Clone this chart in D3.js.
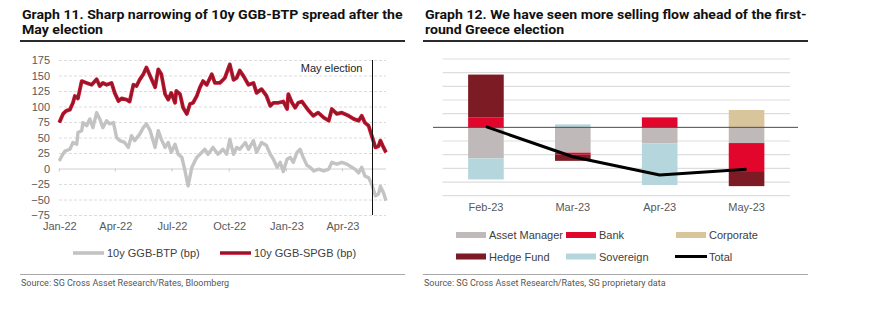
<!DOCTYPE html>
<html lang="en">
<head>
  <meta charset="UTF-8" />
  <title>Graph 11 and 12</title>
  <script src="https://cdn.jsdelivr.net/npm/d3@7"></script>
  <style>
    body { margin: 0; background: #fff; }
    svg { display: block; background: #fff; }
    .title { font-family: Roboto, "Open Sans", sans-serif; font-weight: 700; font-size: 12px; fill: #111; }
    .source { font-family: Roboto, sans-serif; font-size: 9px; fill: #555; }
    .axis text, .lbl { font-family: "Liberation Sans", Arial, sans-serif; font-size: 11px; fill: #595959; }
    .axis path, .axis line { display: none; }
  </style>
</head>
<body>
  <div id="chart"></div>

  <script>
    // ---- Graph 11 data (bp) ----
    const btpDates = ["2022-01-01","2022-01-05","2022-01-10","2022-01-18","2022-01-23","2022-01-29","2022-01-31","2022-02-06","2022-02-08","2022-02-14","2022-02-19","2022-02-24","2022-03-02","2022-03-07","2022-03-12","2022-03-18","2022-03-23","2022-03-29","2022-04-03","2022-04-08","2022-04-16","2022-04-22","2022-04-27","2022-05-02","2022-05-10","2022-05-16","2022-05-21","2022-05-27","2022-06-04","2022-06-09","2022-06-14","2022-06-20","2022-06-25","2022-06-30","2022-07-06","2022-07-11","2022-07-17","2022-07-22","2022-07-27","2022-08-02","2022-08-10","2022-08-15","2022-08-23","2022-08-28","2022-09-05","2022-09-13","2022-09-21","2022-09-27","2022-10-02","2022-10-08","2022-10-13","2022-10-18","2022-10-27","2022-11-01","2022-11-09","2022-11-14","2022-11-22","2022-11-30","2022-12-06","2022-12-11","2022-12-17","2022-12-22","2022-12-27","2023-01-02","2023-01-07","2023-01-12","2023-01-18","2023-01-23","2023-01-28","2023-02-03","2023-02-08","2023-02-14","2023-02-22","2023-03-02","2023-03-10","2023-03-15","2023-03-23","2023-03-31","2023-04-08","2023-04-16","2023-04-21","2023-04-27","2023-05-02","2023-05-07","2023-05-13","2023-05-18","2023-05-24","2023-05-29","2023-06-01","2023-06-06","2023-06-10"];
    const btpValues = [12,20,28,31,42,39,58,61,74,69,80,66,90,80,66,77,72,74,50,45,42,34,53,45,55,66,72,61,34,61,47,34,42,26,39,23,18,-4,-28,2,18,23,31,23,34,23,31,23,47,23,34,31,42,31,45,26,42,37,23,15,2,10,-5,15,18,10,26,31,18,5,2,-4,-1,-4,-1,10,7,10,7,2,-1,-7,2,-12,-15,-25,-44,-41,-29,-39,-52];

    const spgbDates = ["2022-01-01","2022-01-07","2022-01-12","2022-01-18","2022-01-23","2022-01-26","2022-01-31","2022-02-06","2022-02-14","2022-02-22","2022-03-02","2022-03-07","2022-03-12","2022-03-18","2022-03-26","2022-03-31","2022-04-06","2022-04-11","2022-04-19","2022-04-24","2022-04-30","2022-05-05","2022-05-10","2022-05-16","2022-05-21","2022-05-27","2022-06-04","2022-06-09","2022-06-14","2022-06-20","2022-06-25","2022-06-30","2022-07-06","2022-07-08","2022-07-14","2022-07-19","2022-07-25","2022-07-30","2022-08-04","2022-08-10","2022-08-15","2022-08-20","2022-08-26","2022-09-03","2022-09-08","2022-09-16","2022-09-24","2022-10-02","2022-10-08","2022-10-13","2022-10-18","2022-10-24","2022-11-01","2022-11-09","2022-11-14","2022-11-22","2022-11-30","2022-12-06","2022-12-11","2022-12-19","2022-12-27","2023-01-02","2023-01-04","2023-01-10","2023-01-15","2023-01-20","2023-01-26","2023-01-31","2023-02-06","2023-02-13","2023-02-21","2023-03-02","2023-03-10","2023-03-15","2023-03-23","2023-03-31","2023-04-11","2023-04-19","2023-04-27","2023-05-02","2023-05-07","2023-05-13","2023-05-18","2023-05-24","2023-05-29","2023-06-01","2023-06-06","2023-06-10"];
    const spgbValues = [74,88,93,95,106,117,113,141,138,135,144,133,138,135,138,122,109,113,111,108,135,133,143,152,163,149,131,160,152,120,111,122,106,125,120,98,88,104,106,117,131,141,135,152,138,138,146,168,143,146,158,149,135,138,122,128,117,101,106,106,108,96,120,106,98,106,108,101,93,85,90,82,77,96,88,90,85,80,77,85,74,69,53,34,36,45,34,26];

    const tickDates = ["2022-01-01","2022-04-01","2022-07-01","2022-10-01","2023-01-01","2023-04-01"];
    const yTicks = [-75,-50,-25,0,25,50,75,100,125,150,175];
    const electionDate = "2023-05-18";

    // ---- Graph 12 data (grid units) ----
    const months = ["Feb-23","Mar-23","Apr-23","May-23"];
    const investorTypes = ["Asset Manager","Bank","Corporate","Hedge Fund","Sovereign"];
    const assetManager = [-2.27,-1.85,-1.17,-1.15];
    const bank = [0.71,-0.15,0.73,-2.05];
    const corporate = [0,0,0,1.27];
    const hedgeFund = [3.15,-0.45,0,-1.1];
    const sovereign = [-1.54,0.22,-3.05,0];
    const total = [0.05,-2.15,-3.49,-3.07];
    const colors = ["#c0b9ba","#e2062c","#d9c59c","#7c1b24","#b5d6dc"];

    const parse = d3.timeParse("%Y-%m-%d");

    const svg = d3.select("#chart").append("svg")
      .attr("width", 869).attr("height", 321);

    // ---- headers, rules and sources ----
    const panels = [
      { x: 22, x0: 20, x1: 405, w: 381, lines: ["Graph 11. Sharp narrowing of 10y GGB-BTP spread after the", "May election"],
        source: "Source: SG Cross Asset Research/Rates, Bloomberg" },
      { x: 425, x0: 423, x1: 808, w: 382, lines: ["Graph 12. We have seen more selling flow ahead of the first-", "round Greece election"],
        source: "Source: SG Cross Asset Research/Rates, SG proprietary data" }
    ];
    panels.forEach(p => {
      const t1 = svg.append("text").attr("class", "title")
        .attr("x", p.x).attr("y", 19.5).text(p.lines[0]);
      // stretch title so the first line spans the panel like the original
      const k = p.w / t1.node().getComputedTextLength();
      t1.attr("transform", `translate(${p.x},0) scale(${k},1) translate(${-p.x},0)`);
      svg.append("text").attr("class", "title")
        .attr("x", p.x).attr("y", 34).text(p.lines[1])
        .attr("transform", `translate(${p.x},0) scale(${k},1) translate(${-p.x},0)`);

      svg.append("line").attr("x1", p.x0).attr("x2", p.x1).attr("y1", 41).attr("y2", 41)
        .attr("stroke", "#2b2b2b").attr("stroke-width", 2);
      svg.append("line").attr("x1", p.x0).attr("x2", p.x1).attr("y1", 274.5).attr("y2", 274.5)
        .attr("stroke", "#a8a8a8").attr("stroke-width", 1);
      svg.append("text").attr("class", "source")
        .attr("x", p.x - 1).attr("y", 286).text(p.source);
    });

    // ---- Graph 11 ----
    const xL = d3.scaleTime()
      .domain([parse("2022-01-01"), parse("2023-06-10")])
      .range([59.3, 386]);
    const yL = d3.scaleLinear().domain([-75, 175]).range([215, 60]);

    const left = svg.append("g");

    left.selectAll(".grid")
      .data(yTicks)
      .enter()
      .append("line")
      .attr("x1", 59).attr("x2", 386)
      .attr("y1", d => yL(d) + 0.5).attr("y2", d => yL(d) + 0.5)
      .attr("stroke", d => d === 0 ? "#d0d0d0" : "#dcdcdc")
      .attr("stroke-dasharray", d => d === 0 ? null : "3,2");

    left.selectAll(".tick0")
      .data(tickDates)
      .enter()
      .append("line")
      .attr("x1", d => xL(parse(d))).attr("x2", d => xL(parse(d)))
      .attr("y1", yL(0)).attr("y2", yL(0) + 3)
      .attr("stroke", "#c8c8c8");

    left.append("g")
      .attr("class", "axis")
      .attr("transform", "translate(53,0)")
      .call(d3.axisLeft(yL).tickValues(yTicks).tickSize(0).tickPadding(3));

    left.append("g")
      .attr("class", "axis")
      .attr("transform", "translate(0,222)")
      .call(d3.axisBottom(xL).tickValues(tickDates.map(parse))
        .tickFormat(d3.timeFormat("%b-%y")).tickSize(0).tickPadding(0));

    const btp = btpDates.map((d, i) => ({ date: parse(d), v: btpValues[i] }));
    const spgb = spgbDates.map((d, i) => ({ date: parse(d), v: spgbValues[i] }));
    const lineL = d3.line().x(d => xL(d.date)).y(d => yL(d.v));

    left.append("path").datum(btp).attr("d", lineL)
      .attr("fill", "none").attr("stroke", "#c3c3c3").attr("stroke-width", 3.4)
      .attr("stroke-linejoin", "round");
    left.append("path").datum(spgb).attr("d", lineL)
      .attr("fill", "none").attr("stroke", "#d3112f").attr("stroke-width", 3.8)
      .attr("stroke-linejoin", "round");
    left.append("path").datum(spgb).attr("d", lineL)
      .attr("fill", "none").attr("stroke", "#8c1a2a").attr("stroke-width", 2)
      .attr("stroke-linejoin", "round");

    const ex = Math.round(xL(parse(electionDate))) + 0.5;
    left.append("line").attr("x1", ex).attr("x2", ex)
      .attr("y1", yL(175)).attr("y2", yL(-75))
      .attr("stroke", "#111").attr("stroke-width", 1);
    left.append("text").attr("class", "lbl")
      .attr("x", ex - 10).attr("y", 72).attr("text-anchor", "end")
      .style("fill", "#222").text("May election");

    // Legend
    const legL = [
      { name: "10y GGB-BTP (bp)", x: 73, color: "#c3c3c3", core: null },
      { name: "10y GGB-SPGB (bp)", x: 220, color: "#d3112f", core: "#8c1a2a" }
    ];
    legL.forEach(l => {
      left.append("line").attr("x1", l.x).attr("x2", l.x + 31).attr("y1", 253).attr("y2", 253)
        .attr("stroke", l.color).attr("stroke-width", 3.6);
      if (l.core) {
        left.append("line").attr("x1", l.x).attr("x2", l.x + 31).attr("y1", 253).attr("y2", 253)
          .attr("stroke", l.core).attr("stroke-width", 2);
      }
      left.append("text").attr("class", "lbl").attr("x", l.x + 34).attr("y", 257)
        .style("fill", "#404040").text(l.name);
    });

    // ---- Graph 12 ----
    const xR = d3.scaleBand().domain(months).range([442.5, 790])
      .paddingInner(0.59).paddingOuter(0.295);
    const yR = d3.scaleLinear().domain([-5, 5]).range([195.7, 59]);

    const right = svg.append("g");
    right.selectAll(".gridR")
      .data(d3.range(-5, 6).filter(d => d !== 0))
      .enter()
      .append("line")
      .attr("x1", 442.7).attr("x2", 790)
      .attr("y1", d => yR(d)).attr("y2", d => yR(d))
      .attr("stroke", "#dddddd").attr("stroke-width", 1.2);

    const series = [assetManager, bank, corporate, hedgeFund, sovereign];
    const rows = months.map((m, i) => {
      const r = { month: m };
      investorTypes.forEach((k, j) => { r[k] = series[j][i]; });
      return r;
    });
    const stacked = d3.stack().keys(investorTypes).offset(d3.stackOffsetDiverging)(rows);

    right.selectAll(".layer")
      .data(stacked)
      .enter()
      .append("g")
      .attr("fill", (d, i) => colors[i])
      .selectAll("rect")
      .data(d => d)
      .enter()
      .append("rect")
      .attr("x", d => xR(d.data.month))
      .attr("width", xR.bandwidth())
      .attr("y", d => yR(Math.max(d[0], d[1])))
      .attr("height", d => Math.abs(yR(d[0]) - yR(d[1])));

    right.append("line").attr("x1", 433).attr("x2", 798)
      .attr("y1", yR(0)).attr("y2", yR(0))
      .attr("stroke", "#4a4a4a").attr("stroke-width", 1);

    right.append("path")
      .datum(months.map((m, i) => ({ m, v: total[i] })))
      .attr("d", d3.line().x(d => xR(d.m) + xR.bandwidth() / 2).y(d => yR(d.v)))
      .attr("fill", "none").attr("stroke", "#000").attr("stroke-width", 3)
      .attr("stroke-linejoin", "round");

    right.append("g")
      .attr("class", "axis")
      .attr("transform", "translate(0,203)")
      .call(d3.axisBottom(xR).tickSize(0).tickPadding(0));

    const legItems = investorTypes.concat(["Total"]);
    legItems.forEach((name, i) => {
      const col = i % 3, row = Math.floor(i / 3);
      const lx = 456 + col * 110, ly = 235 + row * 21.5;
      if (name === "Total") {
        right.append("line").attr("x1", lx - 1).attr("x2", lx + 31).attr("y1", ly).attr("y2", ly)
          .attr("stroke", "#000").attr("stroke-width", 3);
      } else {
        right.append("rect").attr("x", lx).attr("y", ly - 3).attr("width", 30).attr("height", 6)
          .attr("fill", colors[i]);
      }
      right.append("text").attr("class", "lbl").attr("x", lx + 33).attr("y", ly + 4)
        .style("fill", "#404040").text(name);
    });
  </script>
</body>
</html>
